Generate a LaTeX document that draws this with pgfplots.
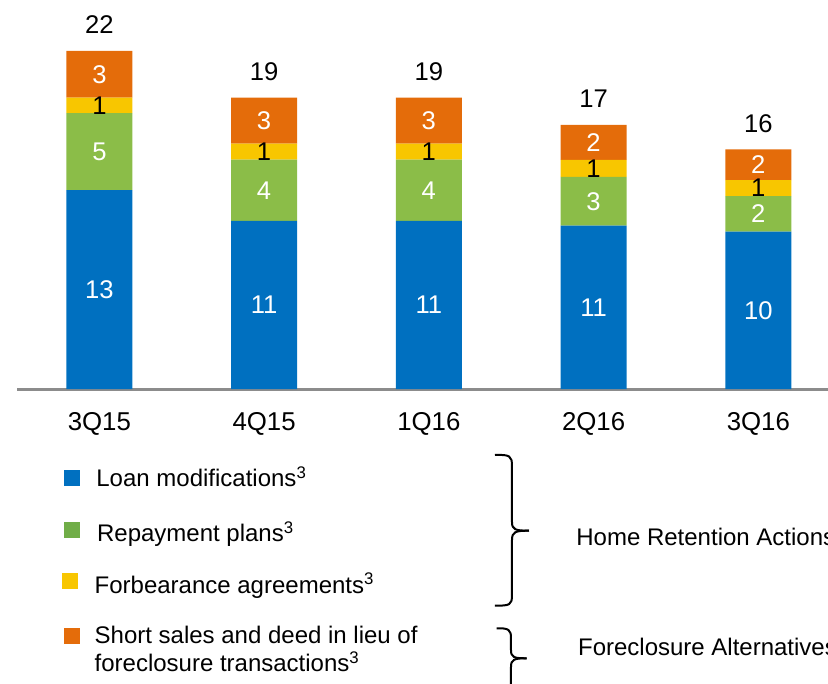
\documentclass[border=0pt]{standalone}
\usepackage{fontspec}
\setmainfont{Liberation Sans}
\usepackage{pgfplots}
\pgfplotsset{compat=1.18}
\usepackage{pgfplotstable}

\definecolor{cblue}{HTML}{0070C0}
\definecolor{cgreen}{HTML}{8BBD48}
\definecolor{cyellow}{HTML}{F8C600}
\definecolor{corange}{HTML}{E46C0A}
\definecolor{lgreen}{HTML}{70AD47}
\definecolor{axgray}{HTML}{8C8C8C}

% heights, labels as printed
\pgfplotstableread{
x blue bl green gl yellow yl orange ol top tot
0 12.95 13 5.01 5 1.00 1 3.04 3 22.00 22
1 10.95 11 3.98 4 1.04 1 3.00 3 18.97 19
2 10.95 11 3.98 4 1.04 1 3.00 3 18.97 19
3 10.63 11 3.17 3 1.11 1 2.28 2 17.19 17
4 10.24 10 2.32 2 1.04 1 2.00 2 15.60 16
}\data

\newcommand{\barfont}{\fontsize{12.8bp}{15bp}\selectfont}
\newcommand{\legfont}{\fontsize{12bp}{14bp}\selectfont}

\pgfplotsset{
  base/.style={
    scale only axis, width=405.5bp, height=169bp,
    xmin=-0.5, xmax=4.423, ymin=0, ymax=22, clip=false,
  },
  seg/.style={
    nodes near coords, point meta=explicit symbolic,
    every node near coord/.append style={anchor=center, font=\barfont, text=#1}
  }
}

\begin{document}
\begin{tikzpicture}
\useasboundingbox (-8.5bp,194.5bp) rectangle (405.5bp,-147.5bp);
\begin{axis}[
  base,
  ybar stacked, bar width=0.4,
  axis x line=bottom, axis y line=none,
  x axis line style={-, draw=axgray, line width=1.5bp},
  xtick={0,...,4}, xticklabels={3Q15,4Q15,1Q16,2Q16,3Q16},
  major tick length=0pt,
  xticklabel style={anchor=base, yshift=-20.5bp, font=\fontsize{12.9bp}{15bp}\selectfont},
]
\addplot[fill=cblue, draw=none, seg=white]   table[x=x, y=blue, meta=bl] {\data};
\addplot[fill=cgreen, draw=none, seg=white]  table[x=x, y=green, meta=gl] {\data};
\addplot[fill=cyellow, draw=none, seg=black] table[x=x, y=yellow, meta=yl] {\data};
\addplot[fill=corange, draw=none, seg=white] table[x=x, y=orange, meta=ol] {\data};
\end{axis}
% totals above the stacks
\begin{axis}[base, hide axis]
\addplot[draw=none, mark=none, nodes near coords, point meta=explicit symbolic,
  every node near coord/.append style={anchor=base, yshift=8.5bp, font=\barfont}]
  table[x=x, y=top, meta=tot] {\data};
\end{axis}

\begin{scope}[shift={(-8.5bp,194.5bp)}, x=0.5bp, y=-0.5bp]
  % legend
  \fill[cblue]   (64,470)   rectangle (80,486);
  \fill[lgreen]  (64,522.3) rectangle (80,537.7);
  \fill[cyellow] (62,573.3) rectangle (78,588.7);
  \fill[corange] (64,628.3) rectangle (80,644);
  \begin{scope}[every node/.style={anchor=base west, inner sep=0pt, font=\legfont}]
    \node at (96,486.7)   {Loan modifications\textsuperscript{3}};
    \node at (96.7,541.7) {Repayment plans\textsuperscript{3}};
    \node at (94.3,593.3) {Forbearance agreements\textsuperscript{3}};
    \node at (94.3,644)   {Short sales and deed in lieu of};
    \node at (94.3,671.7) {foreclosure transactions\textsuperscript{3}};
  \end{scope}
  % braces
  \begin{scope}[line width=1bp]
    \draw (495,455) .. controls (510,454.5) and (512,456) .. (512,466) -- (512,522)
          .. controls (512,529.5) and (515,530.7) .. (529,530.7);
    \draw (529,530.7) .. controls (515,530.7) and (512,532) .. (512,540) -- (512,595)
          .. controls (512,605) and (510,605.7) .. (495,605.7);
    \draw (496.7,628.3) .. controls (509,628) and (511,630) .. (511,638) -- (511,650)
          .. controls (511,657.5) and (514,658.3) .. (526.7,658.3);
    \draw (526.7,658.3) .. controls (514,658.3) and (511,659.5) .. (511,667) -- (511,690);
  \end{scope}
  \begin{scope}[every node/.style={anchor=base west, inner sep=0pt, font=\fontsize{12bp}{14bp}\selectfont}]
    \node at (576,546)   {Home Retention Actions};
    \node at (577.7,656) {Foreclosure Alternatives};
  \end{scope}
\end{scope}
\end{tikzpicture}
\end{document}
